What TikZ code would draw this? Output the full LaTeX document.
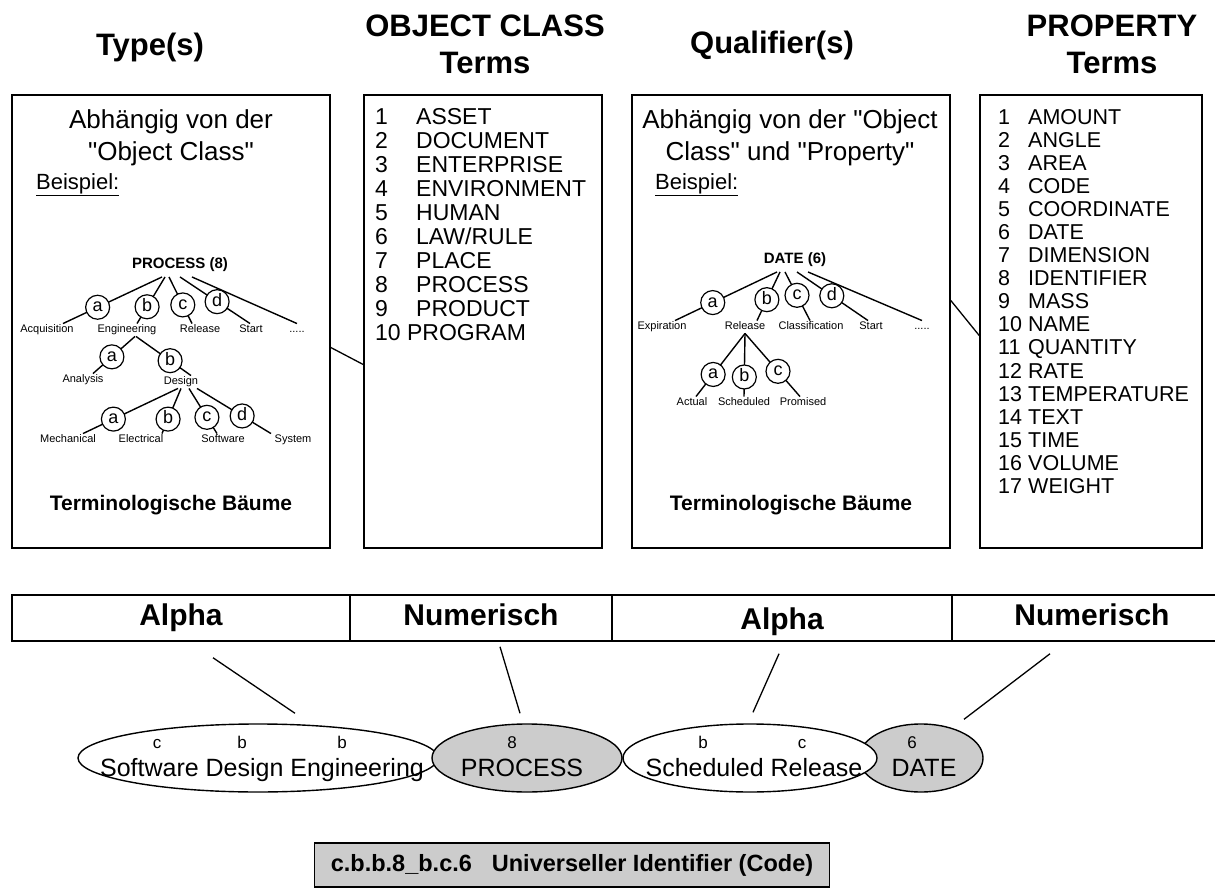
\documentclass[tikz,border=0pt]{standalone}
\usepackage{fontspec}
\setmainfont{Liberation Sans}
\usetikzlibrary{shapes.geometric}
\newcommand\fsz[2]{\fontsize{#1}{#2}\selectfont}
\newcommand\qt{\textquotedbl}
\tikzset{
  frame/.style={draw, line width=1.6pt, minimum height=453pt, inner sep=0pt},
  heading/.style={font=\fsz{31}{37}\bfseries, align=center},
  intro/.style={font=\fsz{26}{32}, align=center},
  example/.style={font=\fsz{22}{26}, anchor=west, inner sep=0pt},
  root/.style={font=\fsz{15}{18}\bfseries, inner sep=1pt, outer sep=4pt},
  leaf/.style={font=\fsz{11}{13}, inner sep=1pt, text height=8pt, text depth=2.5pt},
  twig/.style={line width=1.4pt},
  pick/.style={draw, circle, fill=white, line width=1.2pt, minimum size=24pt, inner sep=0pt, text height=9pt, text depth=0pt, font=\fsz{18}{18}},
  caption/.style={font=\fsz{21}{25}\bfseries},
  term/.style={anchor=base west, inner sep=0pt},
  cell/.style={draw, line width=1.5pt, minimum height=46pt, inner sep=0pt, text height=21pt, text depth=6pt, font=\fsz{30}{34}\bfseries},
  part/.style={draw, ellipse, line width=1.4pt, inner sep=0pt, minimum height=68pt},
  tick/.style={line width=1.3pt},
}
\begin{document}
\begin{tikzpicture}[x=1pt,y=-1pt]
  \useasboundingbox (0,0) rectangle (1215,890);
  % headings
  \node[heading] (typ) at (150,47) {Type(s)};
  \node[heading] (ocl) at (485,44) {OBJECT CLASS\\Terms};
  \node[heading] (qual) at (772,45) {Qualifier(s)};
  \node[heading] (prop) at (1112,44) {PROPERTY\\Terms};
  % the four boxes
  \node[frame, minimum width=318pt] (typebox) at (171,321.5) {};
  \node[frame, minimum width=238pt] (ocbox) at (483,321.5) {};
  \node[frame, minimum width=318pt] (qualbox) at (791,321.5) {};
  \node[frame, minimum width=222pt] (propbox) at (1091,321.5) {};
  \draw[tick] ([yshift=-26pt]typebox.east) -- ([yshift=-43pt]ocbox.west);
  \draw[tick] ([yshift=21pt]qualbox.east) -- ([yshift=-14pt]propbox.west);

  % type box
  \node[intro] (dep1) at (171,138) {Abhängig von der\\\qt Object Class\qt};
  \node[example] (bsp1) at (36,185) {\underline{Beispiel:}};
  \node[root] (proc) at (180,265) {PROCESS (8)};
  \node[leaf] (acq) at (47,330) {Acquisition};
  \node[leaf] (eng) at (127,330) {Engineering};
  \node[leaf] (rls) at (200,330) {Release};
  \node[leaf] (stt) at (251,330) {Start};
  \node[leaf] (more) at (297,330) {.....};
  \node[leaf] (ana) at (83,380) {Analysis};
  \node[leaf] (dsg) at (181,382) {Design};
  \node[leaf] (mech) at (68,440) {Mechanical};
  \node[leaf] (elec) at (141,440) {Electrical};
  \node[leaf] (soft) at (223,440) {Software};
  \node[leaf] (syst) at (293,440) {System};
  \draw[twig] ([xshift=-18pt]proc.south) -- node[pick,pos=.65]{a} ([xshift=16pt]acq.north);
  \draw[twig] ([xshift=-15pt]proc.south) -- node[pick,pos=.64]{b} ([xshift=10pt]eng.north);
  \draw[twig] ([xshift=-11pt]proc.south) -- node[pick,pos=.6]{c} ([xshift=-8pt]rls.north);
  \draw[twig] (proc.south) -- node[pick,pos=.53]{d} ([xshift=-1pt]stt.north);
  \draw[twig] ([xshift=12pt]proc.south) -- (more.north);
  \draw[twig] ([xshift=8pt]eng.south) -- node[pick,pos=.55]{a} ([xshift=10pt]ana.north);
  \draw[twig] ([xshift=9pt]eng.south) -- node[pick,pos=.62]{b} ([xshift=10pt]dsg.north);
  \draw[twig] ([xshift=-3pt]dsg.south) -- node[pick,pos=.68]{a} ([xshift=15pt]mech.north);
  \draw[twig] (dsg.south) -- node[pick,pos=.68]{b} ([xshift=21pt]elec.north);
  \draw[twig] ([xshift=8pt]dsg.south) -- node[pick,pos=.64]{c} ([xshift=-6pt]soft.north);
  \draw[twig] ([xshift=16pt]dsg.south) -- node[pick,pos=.61]{d} ([xshift=-22pt]syst.north);
  \node[caption] (tb1) at (171,505) {Terminologische Bäume};

  % object class terms
  \foreach \t [count=\i] in {ASSET,DOCUMENT,ENTERPRISE,ENVIRONMENT,HUMAN,LAW/RULE,PLACE,PROCESS,PRODUCT} {
    \node[term, font=\fsz{23}{26}] (ocn\i) at (375,{125+24*(\i-1)}) {\i};
    \node[term, font=\fsz{23}{26}] (oc\i) at (416,{125+24*(\i-1)}) {\t};
  }
  \node[term, font=\fsz{23}{26}] (oc10) at (375,341) {10 PROGRAM};

  % qualifier box
  \node[intro] (dep2) at (790,138) {Abhängig von der \qt Object\\Class\qt{} und \qt Property\qt};
  \node[example] (bsp2) at (655,185) {\underline{Beispiel:}};
  \node[root] (date) at (795,260) {DATE (6)};
  \node[leaf] (expi) at (662,327) {Expiration};
  \node[leaf] (rel) at (745,327) {Release};
  \node[leaf] (clas) at (811,327) {Classification};
  \node[leaf] (strt) at (871,327) {Start};
  \node[leaf] (etc) at (922,327) {.....};
  \node[leaf] (actl) at (692,403) {Actual};
  \node[leaf] (schd) at (744,403) {Scheduled};
  \node[leaf] (prom) at (803,403) {Promised};
  \draw[twig] ([xshift=-18pt]date.south) -- node[pick,pos=.63]{a} ([xshift=13pt]expi.north);
  \draw[twig] ([xshift=-15pt]date.south) -- node[pick,pos=.57]{b} ([xshift=12pt]rel.north);
  \draw[twig] ([xshift=-10pt]date.south) -- node[pick,pos=.48]{c} ([xshift=-1pt]clas.north);
  \draw[twig] ([xshift=2pt]date.south) -- node[pick,pos=.49]{d} ([xshift=-3pt]strt.north);
  \draw[twig] ([xshift=13pt]date.south) -- (etc.north);
  \draw[twig] (rel.south) -- node[pick,pos=.65]{a} ([xshift=4pt]actl.north);
  \draw[twig] (rel.south) -- node[pick,pos=.69]{b} (schd.north);
  \draw[twig] (rel.south) -- node[pick,pos=.6]{c} ([xshift=-3pt]prom.north);
  \node[caption] (tb2) at (791,505) {Terminologische Bäume};

  % property terms
  \foreach \t [count=\i] in {AMOUNT,ANGLE,AREA,CODE,COORDINATE,DATE,DIMENSION,IDENTIFIER,MASS,NAME,QUANTITY,RATE,TEMPERATURE,TEXT,TIME,VOLUME,WEIGHT} {
    \node[term, font=\fsz{21.5}{25}] (ptn\i) at (998,{125+23*(\i-1)}) {\i};
    \node[term, font=\fsz{21.5}{25}] (pt\i) at (1028,{125+23*(\i-1)}) {\t};
  }

  % bar
  \node[cell, minimum width=338pt] (alpha1) at (181,618) {Alpha};
  \node[cell, minimum width=262pt] (num1) at (481,618) {Numerisch};
  \node[cell, minimum width=340pt] (alpha2) at (782,618) {\raisebox{-4pt}{Alpha}};
  \node[cell, minimum width=280pt] (num2) at (1092,618) {Numerisch};

  % ellipses
  \node[part, fill=white, minimum width=360pt] (sde) at (258,758) {};
  \node[part, fill=black!20, minimum width=124pt] (date2) at (921,758) {};
  \node[part, fill=white, minimum width=254pt] (sched) at (750,758) {};
  \node[part, fill=black!20, minimum width=190pt] (proc2) at (527,758) {};
  \begin{scope}[every node/.style={font=\fsz{25}{30}, anchor=base}]
    \node (sdet) at (262,776) {Software Design Engineering};
    \node (proct) at (522,776) {PROCESS};
    \node (schedt) at (754,776) {Scheduled Release};
    \node (datet) at (924,776) {DATE};
  \end{scope}
  \begin{scope}[every node/.style={font=\fsz{17}{17}, anchor=base}]
    \node (l1) at (157,748) {c};
    \node (l2) at (242,748) {b};
    \node (l3) at (342,748) {b};
    \node (l4) at (512,748) {8};
    \node (l5) at (703,748) {b};
    \node (l6) at (802,748) {c};
    \node (l7) at (912,748) {6};
  \end{scope}
  \draw[tick] ([xshift=32pt,yshift=-16pt]alpha1.south) -- ([xshift=37pt,yshift=10pt]sde.north);
  \draw[tick] ([xshift=19pt,yshift=-5pt]num1.south) -- ([xshift=-7pt,yshift=10pt]proc2.north);
  \draw[tick] ([xshift=-3pt,yshift=-12pt]alpha2.south) -- ([xshift=3pt,yshift=11pt]sched.north);
  \draw[tick] ([xshift=-42pt,yshift=-12pt]num2.south) -- ([xshift=43pt,yshift=4pt]date2.north);

  % code
  \node[draw, fill=black!20, line width=1.4pt, minimum width=515pt, minimum height=44pt, font=\fsz{23.5}{28}\bfseries] (code) at (572,865) {c.b.b.8\_b.c.6\hspace{20pt}Universeller Identifier (Code)};
\end{tikzpicture}
\end{document}
